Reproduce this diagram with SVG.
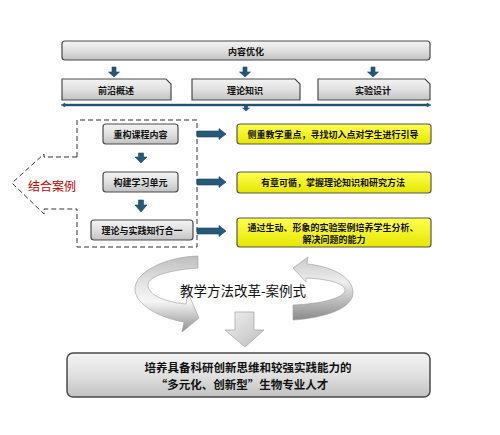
<svg xmlns="http://www.w3.org/2000/svg" width="500" height="435" viewBox="0 0 500 435">
<defs>
<linearGradient id="gGray" x1="0" y1="0" x2="0" y2="1">
<stop offset="0" stop-color="#f4f4f4"/><stop offset="0.5" stop-color="#e0e0e0"/><stop offset="1" stop-color="#c2c2c2"/>
</linearGradient>
<linearGradient id="gYel" x1="0" y1="0" x2="0" y2="1">
<stop offset="0" stop-color="#ffff50"/><stop offset="1" stop-color="#e6e600"/>
</linearGradient>
<linearGradient id="gRib" x1="0" y1="0" x2="0" y2="1">
<stop offset="0" stop-color="#bdbdbd"/><stop offset="0.35" stop-color="#e4e4e4"/><stop offset="0.6" stop-color="#f6f6f6"/><stop offset="1" stop-color="#8f8f8f"/>
</linearGradient>
<linearGradient id="gRibR" x1="0" y1="0" x2="0" y2="1">
<stop offset="0" stop-color="#c8c8c8"/><stop offset="0.4" stop-color="#eeeeee"/><stop offset="0.7" stop-color="#bcbcbc"/><stop offset="1" stop-color="#8a8a8a"/>
</linearGradient>
<linearGradient id="gDown" x1="0" y1="0" x2="1" y2="1">
<stop offset="0" stop-color="#f2f2f2"/><stop offset="1" stop-color="#bdbdbd"/>
</linearGradient>
</defs>
<style>
.box{fill:url(#gGray);stroke:#4a4a4a;stroke-width:1.2}
.ybox{fill:url(#gYel);stroke:#555;stroke-width:1.2}
.t{font-family:"Noto Sans CJK SC","Noto Sans",sans-serif;font-weight:bold;fill:#111;text-anchor:middle;dominant-baseline:central}
.s9{font-size:9px}
.blue{fill:#24597a;stroke:#174563;stroke-width:0.6}
.dash{fill:none;stroke:#333;stroke-width:1;stroke-dasharray:5,3}
.rib{stroke:#9a9a9a;stroke-width:0.6}
</style>

<g id="node-top">
<rect class="box" x="62" y="41" width="368" height="19" rx="3"/>
<text class="t s9" x="246" y="51">内容优化</text>
</g>
<g id="node-qianyan">
<path class="box" d="M62 79 H166 L171 84 V100 H62 Z"/>
<text class="t s9" x="116" y="90">前沿概述</text>
</g>
<g id="node-lilun">
<path class="box" d="M192 79 H295 L300 84 V100 H192 Z"/>
<text class="t s9" x="245" y="90">理论知识</text>
</g>
<g id="node-shiyan">
<path class="box" d="M318 79 H425 L430 84 V100 H318 Z"/>
<text class="t s9" x="373" y="90">实验设计</text>
</g>

<g id="node-case-group">
<path class="dash" d="M77 157 V120 H197 V247 H77 V209"/>
<path class="dash" d="M77 157 H44 V154 L12 183 L44 214 V209 H77"/>
<text x="52" y="185" style="font-family:'Noto Sans CJK SC','Noto Sans',sans-serif;font-size:12px;fill:#c00000;text-anchor:middle;dominant-baseline:central">结合案例</text>
</g>
<g id="node-chonggou">
<rect class="box" x="103" y="124" width="75" height="20" rx="3"/>
<text class="t s9" x="140.5" y="134">重构课程内容</text>
</g>
<g id="node-goujian">
<rect class="box" x="103" y="172" width="75" height="20" rx="3"/>
<text class="t s9" x="140.5" y="182">构建学习单元</text>
</g>
<g id="node-zhixing">
<rect class="box" x="91" y="220" width="102" height="20" rx="3"/>
<text class="t s9" x="142" y="230">理论与实践知行合一</text>
</g>

<g id="node-y1">
<rect class="ybox" x="237" y="124" width="194" height="20" rx="3"/>
<text class="t s9" x="333" y="134">侧重教学重点，寻找切入点对学生进行引导</text>
</g>
<g id="node-y2">
<rect class="ybox" x="237" y="172" width="194" height="21" rx="3"/>
<text class="t s9" x="333" y="182.5">有章可循，掌握理论知识和研究方法</text>
</g>
<g id="node-y3">
<rect class="ybox" x="237" y="218" width="194" height="29" rx="3"/>
<text class="t s9" x="333" y="227">通过生动、形象的实验案例培养学生分析、</text>
<text class="t s9" x="334" y="239">解决问题的能力</text>
</g>

<g id="node-cycle">
<path class="rib" fill="url(#gRib)" d="M199 318 L182 332 L184 322 C160 318 136 305 135 290 C134 272 165 257 198 256 L198 268 C170 270 148 276 148 285 C148 295 165 302 186 304 L188 293 Z"/>
<path class="rib" fill="url(#gRibR)" d="M293 268 L308 257 L307 264 C330 266 352 276 353 292 C354 308 325 318 293 320 L293 305 C320 304 345 298 345 290 C345 284 330 279 306 278 L306 282 Z"/>
<text x="243" y="290" style="font-family:'Noto Sans CJK SC','Noto Sans',sans-serif;font-size:13.5px;fill:#111;text-anchor:middle;dominant-baseline:central">教学方法改革-案例式</text>
</g>

<g id="node-result">
<rect class="box" x="67" y="353" width="363" height="44" rx="6" style="stroke-width:1.5"/>
<text class="t" x="248" y="367" style="font-size:11.5px">培养具备科研创新思维和较强实践能力的</text>
<text class="t" x="242" y="384" style="font-size:11.5px">“多元化、创新型”生物专业人才</text>
</g>

<g id="connectors">
<path class="blue" d="M112 67 H116 V72 H119.5 L114 77 L108.5 72 H112 Z"/>
<path class="blue" d="M243 67 H247 V72 H250.5 L245 77 L239.5 72 H243 Z"/>
<path class="blue" d="M371 67 H375 V72 H378.5 L373 77 L367.5 72 H371 Z"/>
<path d="M65 104 H427 V103 L431 105 L427 107 V106 H65 V107 L61 105 L65 103 Z" fill="#24597a" stroke="#174563" stroke-width="0.4"/>
<path class="blue" d="M244.5 106 H247.5 V108 H249.5 L246 111 L242.5 108 H244.5 Z"/>
<path class="blue" d="M138.5 153 H143.5 V157 H147 L141 163 L135 157 H138.5 Z"/>
<path class="blue" d="M138.5 200 H143.5 V205 H147 L141 212 L135 205 H138.5 Z"/>
<path class="blue" d="M197 131 H219 V128.5 L226 134 L219 139.5 V137 H197 Z"/>
<path class="blue" d="M197 179 H219 V176.5 L226 182 L219 187.5 V185 H197 Z"/>
<path class="blue" d="M197 228 H219 V225.5 L226 231 L219 236.5 V234 H197 Z"/>
<path d="M235 312 H254 V330 H264 L245 347 L225 330 H235 Z" fill="url(#gDown)" stroke="#a8a8a8" stroke-width="0.8"/>
</g>
</svg>
